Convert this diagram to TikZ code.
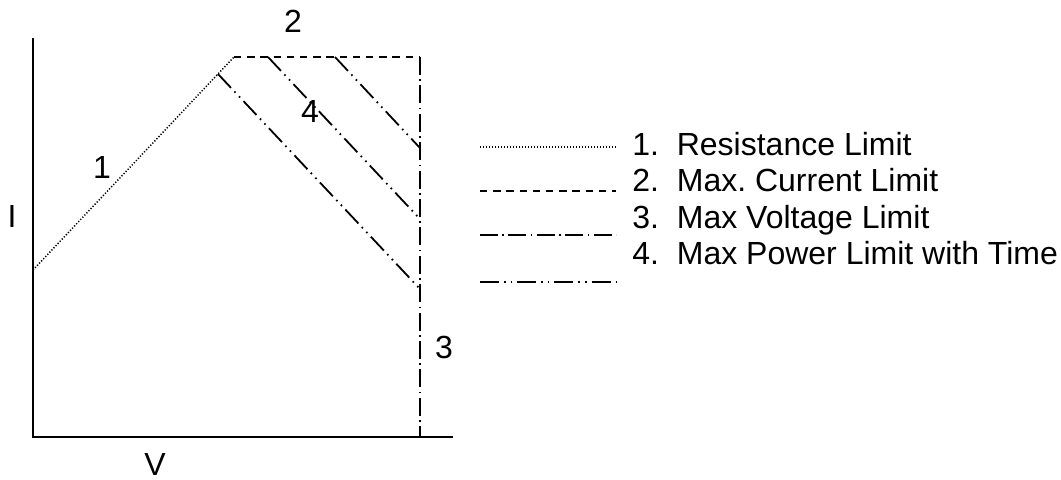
\documentclass[tikz,border=0pt]{standalone}
\usepackage{fontspec}
\setmainfont{Liberation Sans}
\usetikzlibrary{calc}
\begin{document}
\begin{tikzpicture}[x=0.5pt,y=-0.5pt,font=\fontsize{16}{19}\selectfont]
\tikzset{
% line styles for the four limits
axis line/.style={line width=1.2pt},
res line/.style={line width=0.75pt,dash pattern=on 0.6pt off 0.9pt},
cur line/.style={line width=0.9pt,dash pattern=on 3.7pt off 2.9pt},
volt line/.style={line width=0.9pt,dash pattern=on 9pt off 2.2pt on 0.8pt off 2.2pt},
pow line/.style={line width=0.9pt,dash pattern=on 9.5pt off 2.5pt on 0.8pt off 2.5pt on 0.8pt off 2.5pt},
lbl/.style={inner sep=0pt},
key/.style={inner sep=0pt,anchor=base west}
}
\useasboundingbox (0,0) rectangle (1061,479);

% axes
\coordinate (o) at (33,437);
\coordinate (itop) at (33,38);
\coordinate (vend) at (453,437);
\draw[axis line] (itop) -- (o) -- (vend);

% corner points of the limit curve
\coordinate (r0) at (33,270);
\coordinate (knee) at (234,57);
\coordinate (c1) at (420,57);
\coordinate (vbot) at (420,437);
\draw[res line] (r0) -- (knee);
\draw[cur line] (knee) -- (c1);
\draw[volt line] (c1) -- (vbot);

% power limits for different times
\coordinate (p1a) at (218,74);
\coordinate (p1b) at (420,289);
\coordinate (p2a) at (268,57);
\coordinate (p2b) at (420,219);
\coordinate (p3a) at (335,57);
\coordinate (p3b) at (420,148);
\draw[pow line] (p1a) -- (p1b);
\draw[pow line] (p2a) -- (p2b);
\draw[pow line] (p3a) -- (p3b);

% curve labels
\node[lbl] (l1) at (102,167) {1};
\node[lbl] (l2) at (293,21) {2};
\node[lbl] (l3) at (444,347) {3};
\node[lbl] (l4) at (310,111) {4};
\node[lbl] (li) at (12,216) {I};
\node[lbl] (lv) at (155,464) {V};

% legend
\coordinate (k1a) at (480,147); \coordinate (k1b) at (616,147);
\coordinate (k2a) at (480,191); \coordinate (k2b) at (616,191);
\coordinate (k3a) at (480,235); \coordinate (k3b) at (616,235);
\coordinate (k4a) at (480,282); \coordinate (k4b) at (616,282);
\draw[res line] (k1a) -- (k1b);
\draw[cur line] (k2a) -- (k2b);
\draw[volt line] (k3a) -- (k3b);
\draw[pow line] (k4a) -- (k4b);
\node[key] (t1) at (632,155) {1.\ \ Resistance Limit};
\node[key] (t2) at (632,191.5) {2.\ \ Max.\ Current Limit};
\node[key] (t3) at (632,228) {3.\ \ Max Voltage Limit};
\node[key] (t4) at (632,264.5) {4.\ \ Max Power Limit with Time};
\end{tikzpicture}
\end{document}
